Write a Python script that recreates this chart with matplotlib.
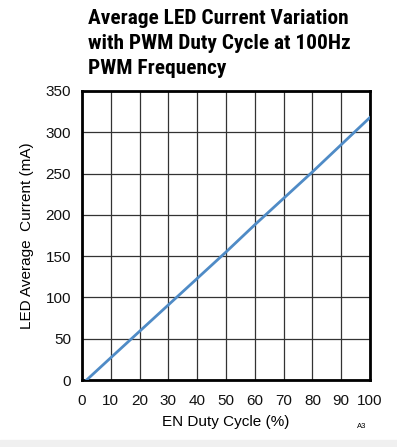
import matplotlib
matplotlib.use("Agg")
import matplotlib.pyplot as plt
from matplotlib.patches import Rectangle

# values
duty_cycle = [1.6, 10, 20, 30, 40, 50, 60, 70, 80, 90, 100]
led_current = [0, 27, 59, 91, 123, 155, 188, 220, 252, 285, 318]
x_ticks = [0, 10, 20, 30, 40, 50, 60, 70, 80, 90, 100]
y_ticks = [0, 50, 100, 150, 200, 250, 300, 350]

title_lines = ["Average LED Current Variation",
               "with PWM Duty Cycle at 100Hz",
               "PWM Frequency"]

plt.rcParams['font.family'] = ['Liberation Sans', 'DejaVu Sans']

W, H = 397, 447
fig = plt.figure(figsize=(W / 100, H / 100), dpi=100)
ax = fig.add_axes([82 / W, 1 - 380 / H, (370 - 82) / W, (380 - 91) / H])

ax.plot(duty_cycle, led_current, color='#4f8bc6', lw=2.0, zorder=3)

ax.set_xlim(0, 100)
ax.set_ylim(0, 350)
ax.set_xticks(x_ticks)
ax.set_yticks(y_ticks)
ax.grid(True, color='#333333', lw=0.9)
ax.tick_params(axis='x', length=0, labelsize=11, pad=10, colors='#111111')
ax.tick_params(axis='y', length=0, labelsize=11, pad=8, colors='#111111')
for s in ax.spines.values():
    s.set_linewidth(2)
    s.set_color('black')

ax.set_xlabel('EN Duty Cycle (%)', fontsize=11, labelpad=5)
ax.set_ylabel('LED Average  Current (mA)', fontsize=11, labelpad=8)

# title block, bold and narrow
for i, line in enumerate(title_lines):
    fig.text(88 / W, 1 - (18 + i * 25.5) / H, line,
             family=['Roboto Condensed', 'Liberation Sans Narrow', 'Roboto'],
             fontweight='bold', fontsize=15.4, ha='left', va='center')

fig.text(362 / W, 1 - 427 / H, 'A3', fontsize=5.5, ha='center', va='center')

# light strip along the bottom edge
fig.patches.append(Rectangle((0, 0), 1, 7 / H, transform=fig.transFigure,
                             color='#f0f0f0', zorder=0))

fig.savefig('out.png', dpi=100)
